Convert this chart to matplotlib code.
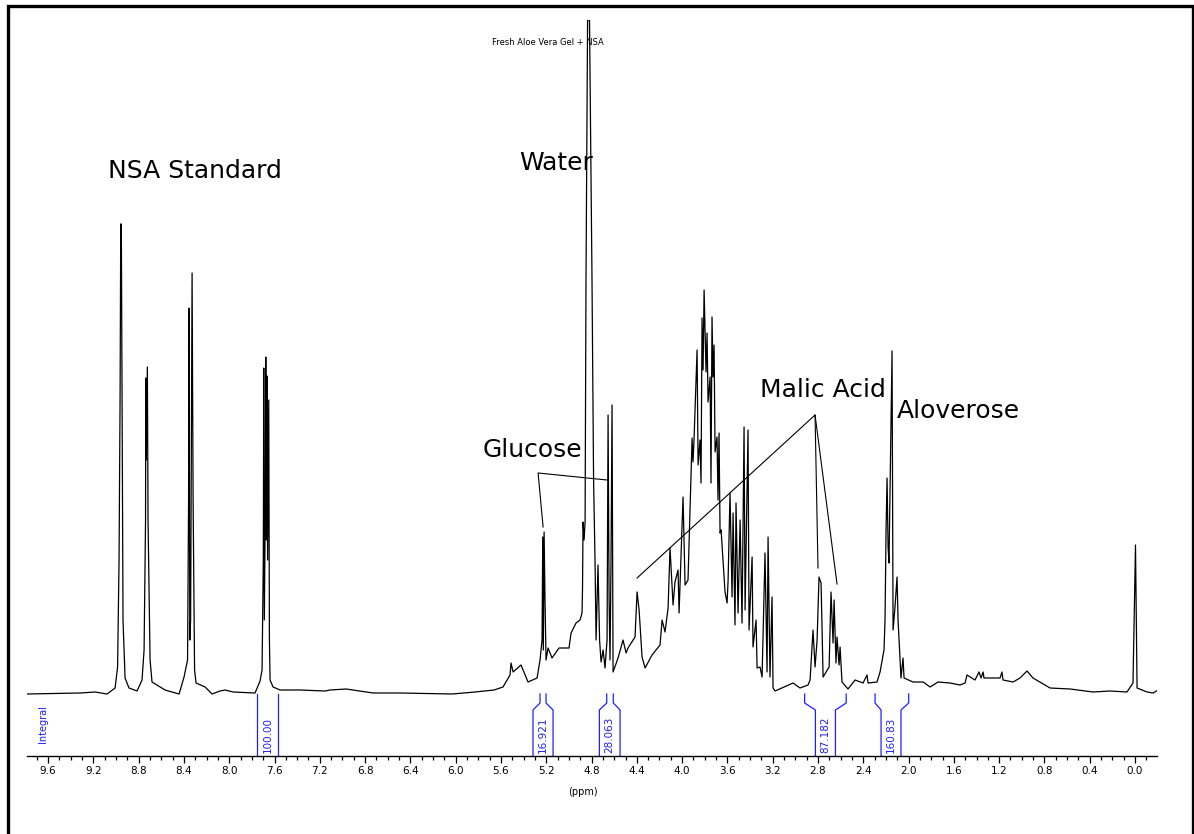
"""
plot.py
Fresh Aloe Vera Gel + NSA 的 1H NMR 圖譜重繪。
"""
import matplotlib
matplotlib.use("Agg")
import matplotlib.pyplot as plt
from matplotlib.patches import Rectangle
from matplotlib.ticker import MultipleLocator, FormatStrFormatter

# ── 圖譜資料（ppm, 強度 a.u.）────────────────────────────────────────────────
PPM = [
    9.785, 9.317, 9.185, 9.079, 9.008, 8.986, 8.973, 8.964, 8.958, 8.953,
    8.946, 8.938, 8.920, 8.885, 8.814, 8.770, 8.752, 8.739, 8.737, 8.733,
    8.723, 8.717, 8.699, 8.682, 8.567, 8.443, 8.399, 8.368, 8.359, 8.355,
    8.348, 8.341, 8.328, 8.319, 8.306, 8.293, 8.213, 8.152, 8.081, 8.037,
    7.966, 7.772, 7.728, 7.710, 7.699, 7.695, 7.690, 7.681, 7.677, 7.672,
    7.666, 7.661, 7.651, 7.645, 7.639, 7.613, 7.551, 7.374, 7.154, 7.109,
    6.968, 6.730, 6.491, 6.032, 5.829, 5.661, 5.582, 5.520, 5.511, 5.493,
    5.423, 5.361, 5.281, 5.255, 5.237, 5.231, 5.226, 5.219, 5.211, 5.202,
    5.184, 5.149, 5.087, 4.999, 4.981, 4.937, 4.902, 4.884, 4.880, 4.875,
    4.866, 4.857, 4.849, 4.835, 4.818, 4.796, 4.782, 4.769, 4.760, 4.743,
    4.729, 4.716, 4.698, 4.681, 4.663, 4.654, 4.645, 4.637, 4.628, 4.619,
    4.610, 4.566, 4.522, 4.495, 4.478, 4.433, 4.416, 4.398, 4.380, 4.354,
    4.327, 4.266, 4.195, 4.177, 4.151, 4.124, 4.107, 4.080, 4.063, 4.036,
    4.027, 3.992, 3.974, 3.948, 3.912, 3.904, 3.895, 3.868, 3.859, 3.842,
    3.833, 3.824, 3.815, 3.806, 3.789, 3.780, 3.771, 3.753, 3.745, 3.736,
    3.727, 3.718, 3.709, 3.692, 3.683, 3.674, 3.665, 3.656, 3.639, 3.621,
    3.603, 3.594, 3.577, 3.559, 3.550, 3.533, 3.524, 3.506, 3.488, 3.471,
    3.453, 3.444, 3.418, 3.409, 3.382, 3.374, 3.347, 3.338, 3.312, 3.294,
    3.268, 3.250, 3.241, 3.224, 3.206, 3.197, 3.179, 3.020, 2.959, 2.888,
    2.870, 2.844, 2.826, 2.808, 2.791, 2.773, 2.755, 2.702, 2.685, 2.667,
    2.658, 2.641, 2.632, 2.614, 2.605, 2.588, 2.535, 2.473, 2.402, 2.367,
    2.358, 2.279, 2.252, 2.217, 2.208, 2.199, 2.190, 2.181, 2.173, 2.155,
    2.146, 2.137, 2.120, 2.102, 2.093, 2.067, 2.049, 2.040, 1.961, 1.872,
    1.810, 1.740, 1.634, 1.546, 1.501, 1.484, 1.413, 1.378, 1.360, 1.342,
    1.334, 1.192, 1.175, 1.166, 1.077, 1.016, 0.954, 0.901, 0.751, 0.574,
    0.371, 0.221, 0.071, 0.018, -0.004, -0.018, -0.106, -0.159, -0.203,
]
INTENSITY = [
    -2, -1, 0, -2, 4, 25, 132, 292, 468, 468,
    272, 72, 14, 4, 1, 12, 42, 172, 314, 232,
    325, 172, 32, 10, 2, -2, 15, 32, 192, 384,
    52, 72, 419, 192, 22, 9, 5, -2, 1, 2,
    0, -1, 11, 22, 132, 324, 72, 192, 335, 152,
    316, 132, 292, 52, 12, 5, 2, 2, 1, 2,
    3, -1, -1, -2, 0, 2, 5, 17, 29, 20,
    27, 10, 14, 32, 52, 155, 42, 160, 92, 32,
    44, 34, 44, 44, 59, 69, 72, 79, 102, 170,
    152, 170, 412, 672, 672, 412, 212, 129, 52, 127,
    52, 30, 42, 24, 52, 277, 92, 32, 132, 287,
    20, 34, 52, 39, 44, 52, 55, 100, 82, 35,
    24, 37, 47, 72, 60, 84, 144, 87, 110, 122,
    79, 195, 107, 112, 254, 230, 252, 342, 227, 252,
    209, 374, 322, 402, 320, 359, 290, 315, 209, 375,
    315, 347, 240, 255, 192, 259, 159, 162, 132, 100,
    89, 112, 199, 95, 179, 67, 189, 79, 172, 69,
    265, 82, 262, 62, 135, 45, 72, 24, 25, 15,
    139, 20, 155, 15, 95, 4, 1, 9, 4, 7,
    12, 62, 25, 52, 115, 109, 15, 25, 100, 49,
    92, 29, 55, 27, 45, 10, 3, 12, 9, 17,
    9, 10, 20, 42, 72, 162, 214, 145, 129, 272,
    341, 62, 85, 115, 72, 14, 34, 14, 10, 10,
    5, 10, 9, 7, 9, 17, 12, 20, 14, 20,
    14, 14, 20, 12, 10, 14, 21, 14, 4, 3,
    0, 1, 0, 9, 147, 4, 0, -1, 2,
]

# ── 積分區間 ─────────────────────────────────────────────────────────────────
INT_VALUES = ["100.00", "16.921", "28.063", "87.182", "160.83"]
INT_LIMITS = [(7.754, 7.569), (5.255, 5.202), (4.666, 4.608), (2.918, 2.551), (2.296, 1.999)]
INT_BOXES  = [(7.754, 7.569), (5.317, 5.140), (4.731, 4.548), (2.823, 2.646), (2.243, 2.067)]

# ── 標註 ─────────────────────────────────────────────────────────────────────
PEAK_NAMES = ["NSA Standard", "Water", "Glucose", "Malic Acid", "Aloverose"]
NAME_POS   = [(9.070, 521), (5.440, 529), (5.758, 242), (3.312, 302), (2.102, 281)]
GLUCOSE_LINES = [[(5.228, 165), (5.272, 219), (4.663, 212)]]
MALIC_LINES   = [[(4.398, 114), (2.826, 277), (2.800, 124)],
                 [(2.826, 277), (2.632, 108)]]

BLUE = "#2020ff"

fig = plt.figure(figsize=(11.94, 8.34), dpi=100)
ax = fig.add_axes([27 / 1194, 1 - 756 / 834, 1130 / 1194, 736 / 834])

# 圖譜
ax.plot(PPM, INTENSITY, color="black", lw=0.9)
ax.set_xlim(9.786, -0.194)
ax.set_ylim(-64, 672)

# 座標軸
for side in ["left", "right", "top"]:
    ax.spines[side].set_visible(False)
ax.spines["bottom"].set_linewidth(1.0)
ax.set_yticks([])
ax.xaxis.set_major_locator(MultipleLocator(0.4))
ax.xaxis.set_minor_locator(MultipleLocator(0.1))
ax.xaxis.set_major_formatter(FormatStrFormatter("%.1f"))
ax.tick_params(axis="x", which="major", length=5, width=0.9, pad=2, labelsize=7.5)
ax.tick_params(axis="x", which="minor", length=3, width=0.9)
ax.text(0.492, -0.049, "(ppm)", transform=ax.transAxes,
        ha="center", va="center", fontsize=7)

# 積分
for val, (ul, ur), (bl, br) in zip(INT_VALUES, INT_LIMITS, INT_BOXES):
    ax.plot([ul, ul, bl, bl], [-2, -11, -18, -64], color=BLUE, lw=0.9, clip_on=False)
    ax.plot([ur, ur, br, br], [-2, -11, -18, -64], color=BLUE, lw=0.9, clip_on=False)
    ax.text((bl + br) / 2, -61, val, rotation=90, ha="center", va="bottom",
            color=BLUE, fontsize=7.5)
ax.text(9.644, -51, "Integral", rotation=90, ha="center", va="bottom",
        color=BLUE, fontsize=7)

# 峰標註
for name, (x, y) in zip(PEAK_NAMES, NAME_POS):
    ax.text(x, y, name, ha="left", va="center", fontsize=18)
for line in GLUCOSE_LINES + MALIC_LINES:
    xs, ys = zip(*line)
    ax.plot(xs, ys, color="black", lw=0.8)

ax.text(5.184, 650, "Fresh Aloe Vera Gel + NSA", ha="center", va="center", fontsize=6)

# 外框
fig.patches.append(Rectangle((7.5 / 1194, -0.05), 1185 / 1194, 1.05 - 6 / 834,
                             transform=fig.transFigure, fill=False,
                             edgecolor="black", lw=2.4, clip_on=False))

fig.savefig("out.png", dpi=100)
